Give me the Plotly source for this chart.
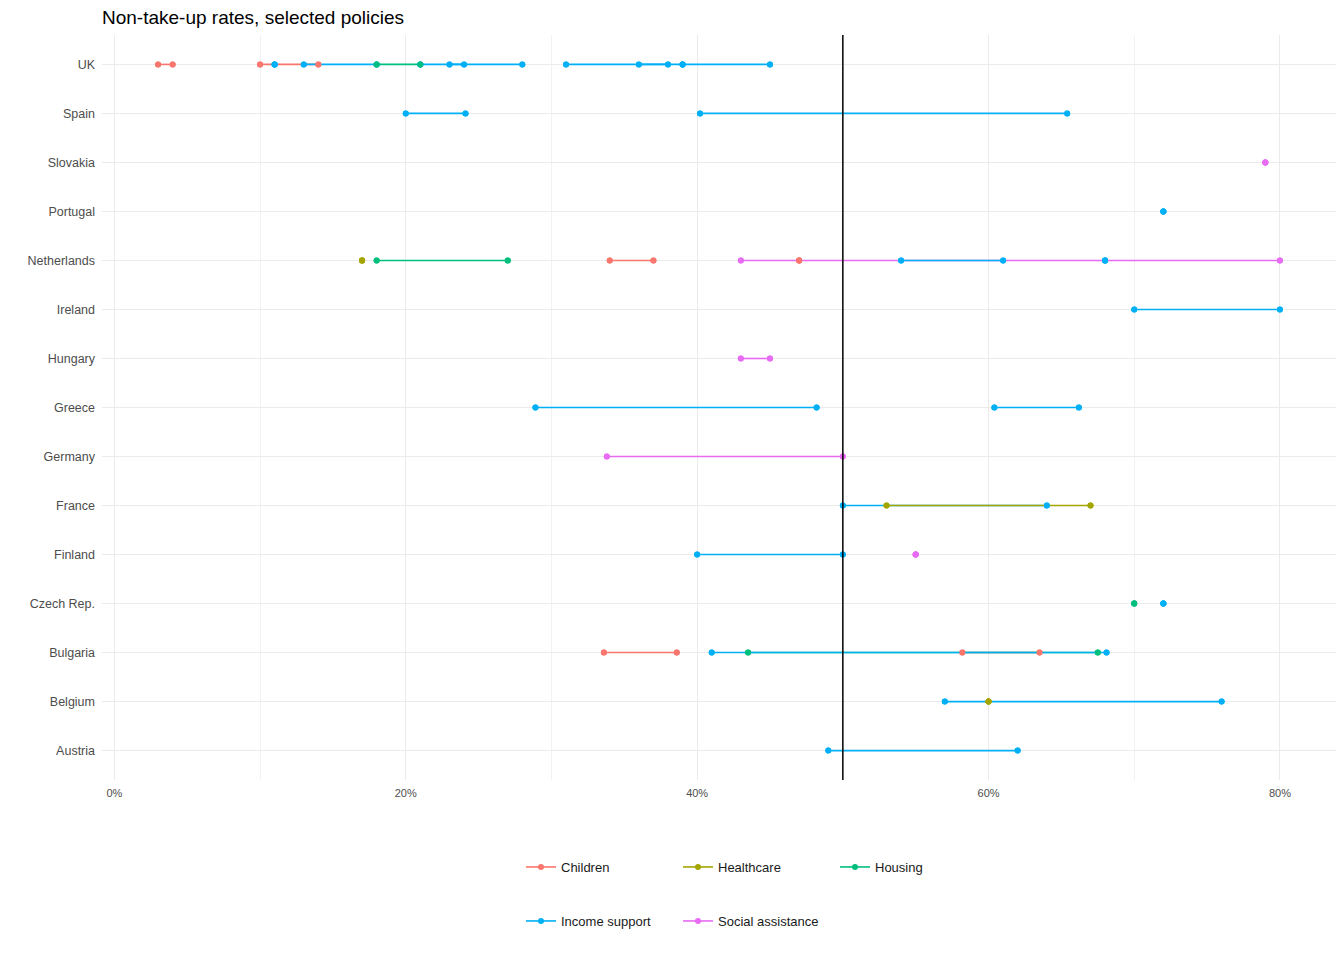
import plotly.graph_objects as go

# === Data ===
countries = ["Austria", "Belgium", "Bulgaria", "Czech Rep.", "Finland", "France",
             "Germany", "Greece", "Hungary", "Ireland", "Netherlands", "Portugal",
             "Slovakia", "Spain", "UK"]

policies = ["Children", "Healthcare", "Housing", "Income support", "Social assistance"]
policy_colors = ["#F8766D", "#A3A500", "#00BF7D", "#00B0F6", "#E76BF3"]

# one row per study estimate range (low, high) in %
seg_country = ["UK", "UK", "UK", "UK", "UK", "UK", "UK", "UK", "UK", "UK",
               "Spain", "Spain",
               "Slovakia",
               "Portugal",
               "Netherlands", "Netherlands", "Netherlands", "Netherlands",
               "Netherlands", "Netherlands", "Netherlands",
               "Ireland",
               "Hungary",
               "Greece", "Greece",
               "Germany",
               "France", "France",
               "Finland", "Finland",
               "Czech Rep.", "Czech Rep.",
               "Bulgaria", "Bulgaria", "Bulgaria", "Bulgaria",
               "Belgium", "Belgium",
               "Austria"]
seg_policy = ["Children", "Children", "Income support", "Income support", "Housing",
              "Income support", "Income support", "Income support", "Income support",
              "Income support",
              "Income support", "Income support",
              "Social assistance",
              "Income support",
              "Healthcare", "Housing", "Children", "Children",
              "Social assistance", "Income support", "Income support",
              "Income support",
              "Social assistance",
              "Income support", "Income support",
              "Social assistance",
              "Income support", "Healthcare",
              "Income support", "Social assistance",
              "Housing", "Income support",
              "Children", "Children", "Income support", "Housing",
              "Income support", "Healthcare",
              "Income support"]
seg_low = [3, 10, 11, 13, 18, 21, 23, 31, 36, 39,
           20, 40.2,
           79,
           72,
           17, 18, 34, 47, 43, 54, 68,
           70,
           43,
           28.9, 60.4,
           33.8,
           50, 53,
           40, 55,
           70, 72,
           33.6, 58.2, 41, 43.5,
           57, 60,
           49]
seg_high = [4, 14, 11, 18, 21, 24, 28, 38, 45, 39,
            24.1, 65.4,
            79,
            72,
            17, 27, 37, 47, 80, 61, 68,
            80,
            45,
            48.2, 66.2,
            50,
            64, 67,
            50, 55,
            70, 72,
            38.6, 63.5, 68.1, 67.5,
            76, 60,
            62]

threshold = 50  # reference line, %
x_ticks = [0, 20, 40, 60, 80]
x_tick_labels = ["0%", "20%", "40%", "60%", "80%"]

# drawing order of lines and points (legend keeps the policies order)
line_order = ["Social assistance", "Children", "Housing", "Income support", "Healthcare"]
point_order = ["Children", "Healthcare", "Income support", "Housing", "Social assistance"]
color_of = dict(zip(policies, policy_colors))

W, H = 1336, 952  # page adds an 8px body margin


def segments_for(policy):
    xs, ys = [], []
    for c, p, lo, hi in zip(seg_country, seg_policy, seg_low, seg_high):
        if p == policy:
            xs += [lo, hi, None]
            ys += [c, c, None]
    return xs, ys


fig = go.Figure()

for p in line_order:
    xs, ys = segments_for(p)
    idx = policies.index(p)
    fig.add_trace(go.Scatter(
        x=xs, y=ys, mode="lines+markers", name=p,
        line=dict(color=color_of[p], width=1.6),
        marker=dict(color=color_of[p], size=6),
        legend="legend" if idx < 3 else "legend2",
        legendrank=idx,
        hoverinfo="skip",
    ))

for p in point_order:
    xs, ys = segments_for(p)
    fig.add_trace(go.Scatter(
        x=xs, y=ys, mode="markers", showlegend=False,
        marker=dict(color=color_of[p], size=6),
    ))

fig.add_vline(x=threshold, line=dict(color="black", width=1.5))

legend_style = dict(
    orientation="h", xref="container", yref="container",
    xanchor="left", yanchor="middle", entrywidth=112,
    font=dict(size=13, color="#1a1a1a"), bgcolor="rgba(0,0,0,0)",
)

fig.update_layout(
    width=W, height=H,
    font=dict(family="Liberation Sans, Arial, sans-serif", size=12, color="#4D4D4D"),
    title=dict(text="Non-take-up rates, selected policies", x=0, xref="paper",
               y=1 - 9 / H, yref="container", yanchor="middle",
               font=dict(size=19, color="black")),
    plot_bgcolor="white", paper_bgcolor="white",
    margin=dict(l=94, r=8, t=27, b=180),
    xaxis=dict(range=[-0.85, 83.85], tickvals=x_ticks, ticktext=x_tick_labels,
               showgrid=True, gridcolor="#EBEBEB", gridwidth=1.2, zeroline=False,
               minor=dict(dtick=10, tick0=0, showgrid=True, gridcolor="#F2F2F2", gridwidth=0.8),
               ticks="", tickfont=dict(size=11, color="#4D4D4D")),
    yaxis=dict(type="category", categoryorder="array", categoryarray=countries,
               range=[-0.6, len(countries) - 0.4], showgrid=True, gridcolor="#EBEBEB",
               gridwidth=1.2, zeroline=False, ticks="",
               tickfont=dict(size=12.5, color="#4D4D4D")),
    legend=dict(x=(521 - 8) / W, y=(H - (867 - 8)) / H, **legend_style),
    legend2=dict(x=(521 - 8) / W, y=(H - (921 - 8)) / H, **legend_style),
)

fig.update_xaxes(ticklabelstandoff=5)
fig.update_yaxes(ticklabelstandoff=6)

fig.write_html("out.html")
